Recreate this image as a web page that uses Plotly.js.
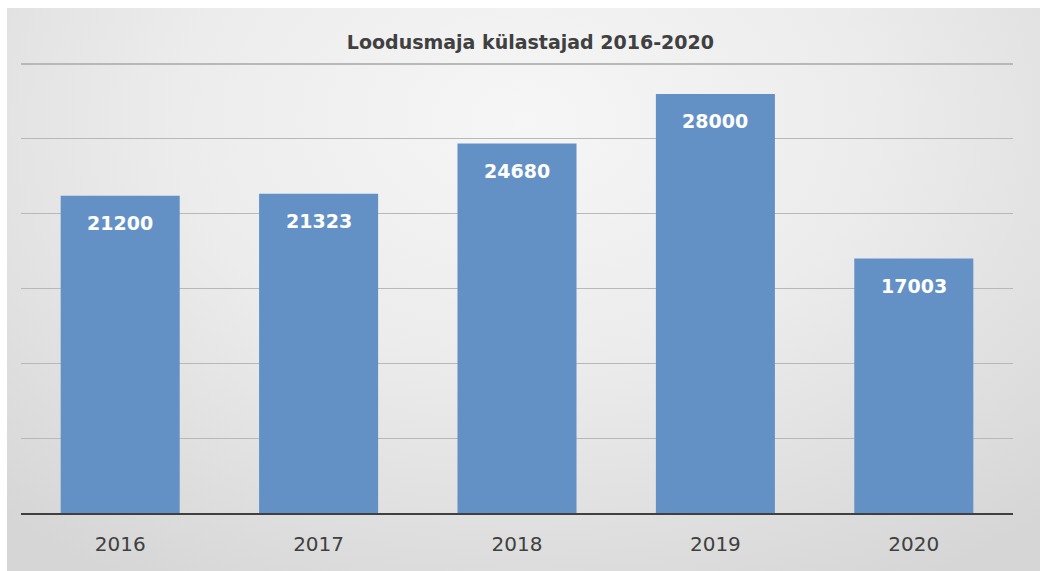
<!DOCTYPE html>
<html>
<head>
<meta charset="utf-8">
<script src="https://cdn.plot.ly/plotly-3.0.1.min.js"></script>
<style>
  html, body { margin: 0; padding: 0; background: #ffffff; }
  #bg {
    position: absolute; left: 7px; top: 8px; width: 1033px; height: 563px;
    background: radial-gradient(ellipse 75% 95% at 50% 20%, #f6f6f6 0%, #ececec 45%, #d6d6d6 100%);
  }
  #chart { position: absolute; left: 0; top: 0; width: 1040px; height: 571px; }
</style>
</head>
<body>
<div id="bg"></div>
<div id="chart"></div>
<script>
const categories = ["2016", "2017", "2018", "2019", "2020"];
const visitors = [21200, 21323, 24680, 28000, 17003];
const chartTitle = "Loodusmaja külastajad 2016-2020";

const annotations = categories.map((c, i) => ({
  x: i, y: visitors[i], xref: 'x', yref: 'y',
  text: '<b>' + visitors[i] + '</b>', showarrow: false,
  yanchor: 'top', yshift: -14,
  font: { family: 'DejaVu Sans', size: 19, color: '#ffffff' }
}));

Plotly.newPlot('chart', [{
  type: 'bar',
  x: categories,
  y: visitors,
  marker: { color: '#6391c6', line: { width: 0 } },
  hoverinfo: 'none'
}], {
  width: 1040, height: 571,
  paper_bgcolor: 'rgba(0,0,0,0)',
  plot_bgcolor: 'rgba(0,0,0,0)',
  margin: { l: 21, r: 27, t: 61, b: 58 },
  bargap: 0.4,
  showlegend: false,
  title: {
    text: '<b>' + chartTitle + '</b>',
    x: 0.51, xanchor: 'center', y: 0.926, yanchor: 'middle',
    font: { family: 'DejaVu Sans', size: 19, color: '#404040' }
  },
  xaxis: {
    type: 'category',
    range: [-0.5, 4.5],
    showline: true, linecolor: '#404040', linewidth: 2,
    ticks: 'outside', ticklen: 12, tickcolor: 'rgba(0,0,0,0)', showgrid: false,
    tickfont: { family: 'DejaVu Sans', size: 20, color: '#404040' }
  },
  yaxis: {
    range: [0, 30200], dtick: 5000, tick0: 0,
    showgrid: true, gridcolor: '#b8b8b8', gridwidth: 1.3,
    zeroline: false, showticklabels: false, ticks: '', showline: false
  },
  annotations: annotations
}, { displayModeBar: false, staticPlot: true });
</script>
</body>
</html>
